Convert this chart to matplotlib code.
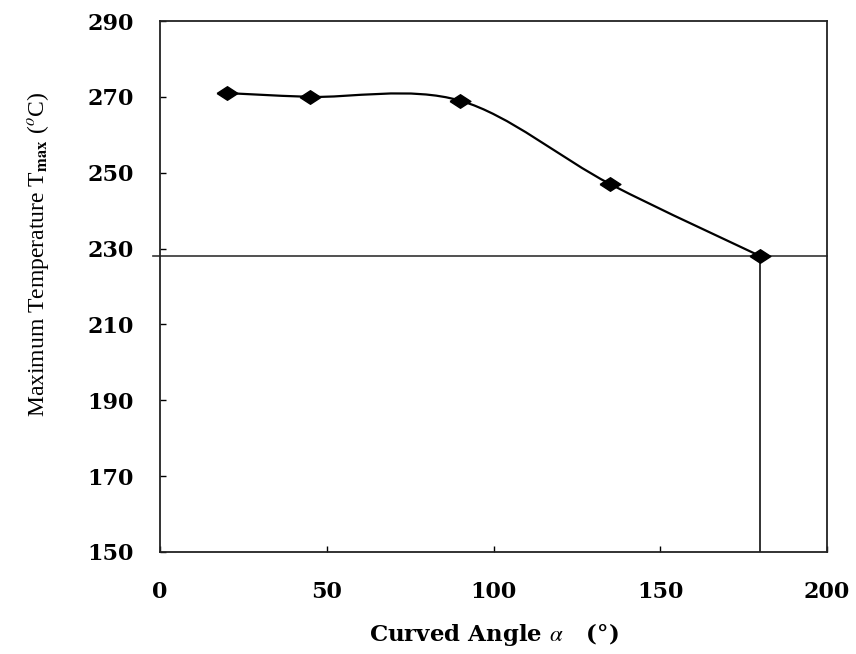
import numpy as np
import matplotlib
matplotlib.use("Agg")
import matplotlib.pyplot as plt
from matplotlib.path import Path
from matplotlib.patches import PathPatch

# values
angles = [20, 45, 90, 135, 180]
t_max = [271, 270, 269, 247, 228]
ref_temp = 228
ref_angle = 180

x_ticks = [0, 50, 100, 150, 200]
y_ticks = [150, 170, 190, 210, 230, 250, 270, 290]

plt.rcParams['font.family'] = ['Liberation Serif', 'DejaVu Serif']
plt.rcParams['mathtext.fontset'] = 'stix'

# flattened diamond, the scan is a bit stretched sideways
diamond = [(-1, 0), (0, 0.65), (1, 0), (0, -0.65), (-1, 0)]


def smooth_path(xs, ys):
    # Catmull-Rom style curve expressed as cubic bezier segments
    pts = np.column_stack([xs, ys]).astype(float)
    n = len(pts)
    verts = [pts[0]]
    codes = [Path.MOVETO]
    for i in range(n - 1):
        p0 = pts[i - 1] if i > 0 else pts[i]
        p1 = pts[i]
        p2 = pts[i + 1]
        p3 = pts[i + 2] if i + 2 < n else pts[i + 1]
        c1 = p1 + (p2 - p0) / 6.0
        c2 = p2 - (p3 - p1) / 6.0
        verts += [c1, c2, p2]
        codes += [Path.CURVE4] * 3
    return Path(verts, codes)


fig = plt.figure(figsize=(8.56, 6.54), dpi=100)
ax = fig.add_axes([160 / 856, 1 - 552 / 654, (827 - 160) / 856, (552 - 21) / 654])

ax.add_patch(PathPatch(smooth_path(angles, t_max), facecolor='none',
                       edgecolor='black', lw=1.6, zorder=3))
ax.plot(angles, t_max, linestyle='none', marker=diamond, markersize=15,
        color='black', zorder=4)

# reference lines at the 180 degree point
ax.axhline(ref_temp, color='#333333', lw=1.2, zorder=2, clip_on=False, xmin=-0.01)
ax.plot([ref_angle, ref_angle], [150, ref_temp], color='#333333', lw=1.4, zorder=2)

ax.set_xlim(0, 200)
ax.set_ylim(150, 290)
ax.set_xticks(x_ticks)
ax.set_yticks(y_ticks)
ax.tick_params(direction='in', length=4, width=1, top=False, right=False)
ax.tick_params(axis='x', pad=21)
ax.tick_params(axis='y', pad=19)
for lab in ax.get_xticklabels() + ax.get_yticklabels():
    lab.set_family('DejaVu Serif')
    lab.set_fontsize(16)
    lab.set_fontweight('bold')

for s in ax.spines.values():
    s.set_linewidth(1.3)
    s.set_color('#222222')

ax.set_xlabel(r'Curved Angle $\alpha$   (°)', fontsize=16.5, family='DejaVu Serif',
              fontweight='bold', va='center')
ax.xaxis.set_label_coords(0.5, (552 - 634) / 531)
ax.set_ylabel(r'Maximum Temperature T$_{\mathbf{max}}$ ($^{o}$C)', fontsize=17,
              va='center', ha='center')
ax.yaxis.set_label_coords((38 - 160) / 667, (552 - 254) / 531)

fig.savefig('out.png', dpi=100)
